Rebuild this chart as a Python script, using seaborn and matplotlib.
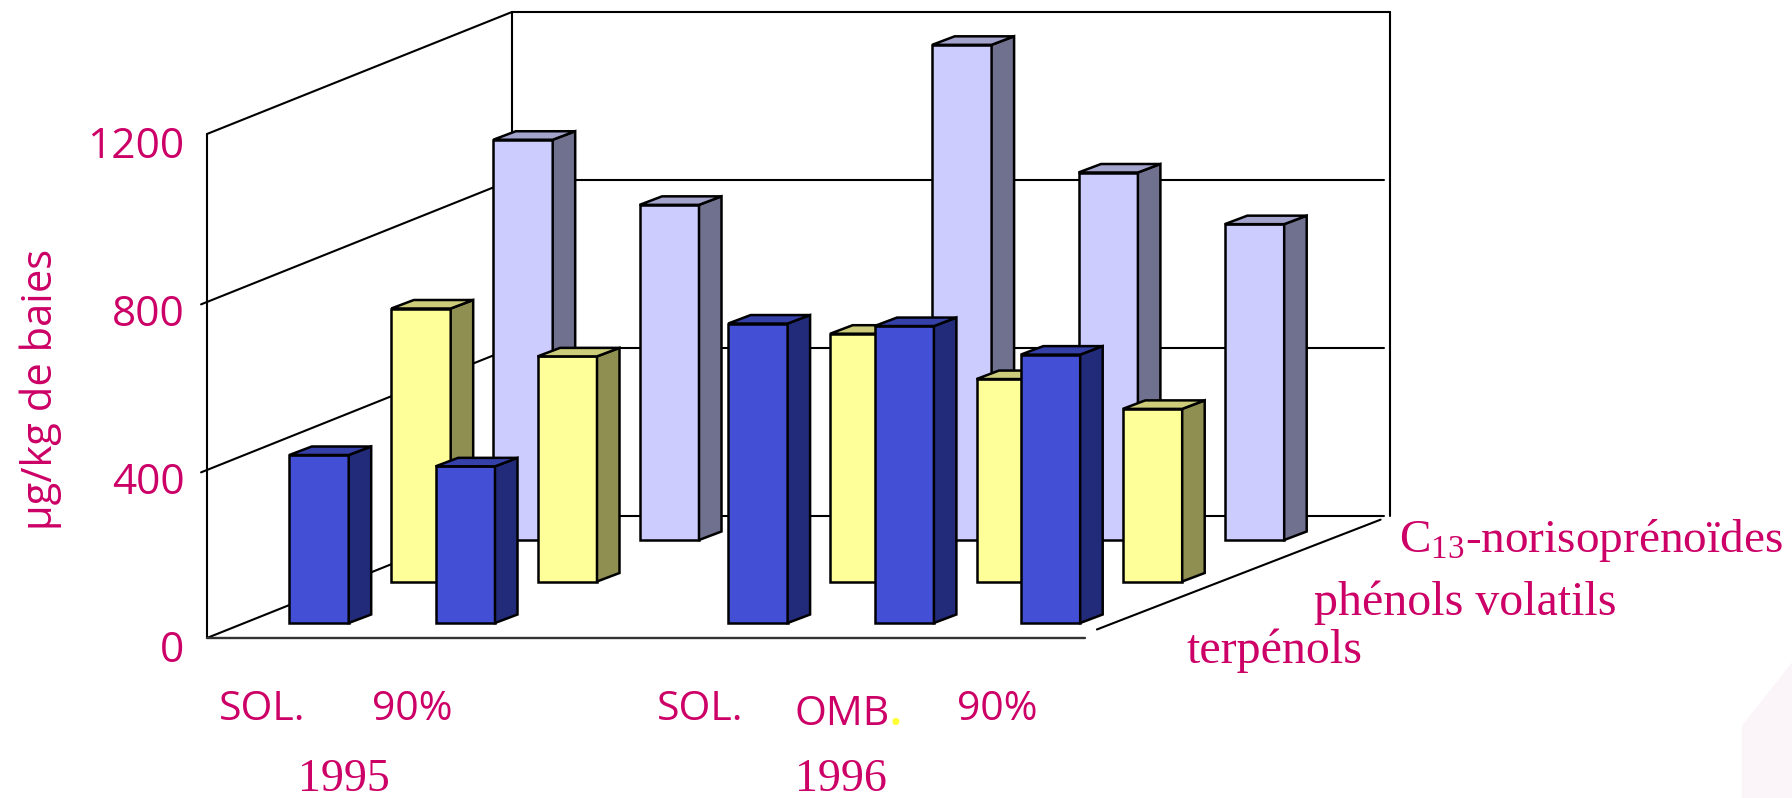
import matplotlib
matplotlib.use("Agg")
import matplotlib.pyplot as plt
from matplotlib.patches import Polygon
import seaborn as sns

# Datos (ug/kg de baies)
positions = [0, 1, 3, 4, 5]
terpenols = [400, 373, 713, 707, 639]
phenols = [650, 536, 590, 482, 411]
norisoprenoides = [953, 798, 1179, 875, 752]
y_ticks = [0, 400, 800, 1200]

ink = "#CC0066"
px_cat = 146.3   # pixeles por categoria
px_val = 0.42    # pixeles por ug/kg

# Desplazamiento oblicuo: profundidad de la caja, de una serie y de una barra
wall_dx, wall_dy = 305 / px_cat, 122 / px_val
step_dx, step_dy = 102 / px_cat, 41.5 / px_val
bar_dx, bar_dy = 22.5 / px_cat, 8.5 / px_val
left = -0.766
first_bottom = 15 / px_val

sns.set_style("white")
plt.rcParams["mathtext.default"] = "regular"

fig = plt.figure(figsize=(17.92, 7.98), dpi=100)
ax = fig.add_axes([0, 0, 1, 1])
ax.set_axis_off()

# Caja: pared izquierda, pared del fondo y suelo
back = left + wall_dx
for v in y_ticks:
    stub = 0 if v in (0, 1200) else 0.04
    ax.plot([left - stub, back], [v - stub * wall_dy / wall_dx, v + wall_dy], color="black", lw=1.5, zorder=1)
    ax.plot([back, back + 5.96 if v != 1200 else back + 6], [v + wall_dy, v + wall_dy], color="black", lw=1.5, zorder=1)
ax.plot([left, left], [0, 1200], color="black", lw=1.5, zorder=1)
ax.plot([back, back], [wall_dy, 1200 + wall_dy], color="black", lw=1.5, zorder=1)
ax.plot([back + 6, back + 6], [wall_dy, 1200 + wall_dy], color="black", lw=1.5, zorder=1)
ax.plot([left, left + 6], [0, 0], color="#333333", lw=1.7, zorder=1)
ax.plot([left + 6 + 0.04 * wall_dx, left + 6 + 0.97 * wall_dx],
        [0.07 * wall_dy, 0.97 * wall_dy], color="black", lw=1.5, zorder=8)

# Series de atras hacia delante, con su cara frontal, lateral y superior
series = [
    (norisoprenoides, 2, "#CCCCFF", "#70708F", "#A3A3CC"),
    (phenols, 1, "#FFFF99", "#8F8F52", "#CCCC7A"),
    (terpenols, 0, "#4350D6", "#222B7A", "#3540A8"),
]
for values, depth, front, side, top in series:
    z = 6 - 2 * depth
    xs = [p + depth * step_dx for p in positions]
    bottom = first_bottom + depth * step_dy
    sns.barplot(x=xs, y=values, native_scale=True, width=0.406, color=front, saturation=1,
                edgecolor="black", linewidth=1.8, bottom=bottom, zorder=z, ax=ax)
    for bar in ax.containers[-1]:
        x0, x1 = bar.get_x(), bar.get_x() + bar.get_width()
        y0, y1 = bar.get_y(), bar.get_y() + bar.get_height()
        ax.add_patch(Polygon([(x1, y0), (x1 + bar_dx, y0 + bar_dy), (x1 + bar_dx, y1 + bar_dy), (x1, y1)],
                             facecolor=side, edgecolor="black", lw=1.8, zorder=z))
        ax.add_patch(Polygon([(x0, y1), (x0 + bar_dx, y1 + bar_dy), (x1 + bar_dx, y1 + bar_dy), (x1, y1)],
                             facecolor=top, edgecolor="black", lw=1.8, zorder=z))

ax.set_xlim(-319 / px_cat, (1792 - 319) / px_cat)
ax.set_ylim(-(798 - 638) / px_val, 638 / px_val)
ax.set_axis_off()

# Mancha rosa muy clara de la esquina inferior derecha
ax.add_patch(Polygon([(0.972, 0), (0.972, 0.09), (1, 0.17), (1, 0)], transform=ax.transAxes,
                     facecolor="#FBF4F8", edgecolor="none", zorder=0))


def label(x, y, s, family="Open Sans", size=29.5, **kws):
    # x, y en pixeles de la imagen reducida
    return ax.text(x / 1568, 1 - y / 698, s, transform=ax.transAxes, family=family, size=size,
                   color=ink, va="center", zorder=10, **kws)


for v in y_ticks:
    ax.text(left - 0.155, v - 30, str(v), family="Open Sans", size=30.5, color=ink, ha="right", va="center")

label(36, 341, "µg/kg de baies", size=30, rotation=90, ha="center")
label(229, 621, "SOL.", ha="center")
label(361, 621, "90%", ha="center")
label(613, 621, "SOL.", ha="center")
omb = label(737, 625, "OMB", ha="center")
ax.annotate(".", xy=(1, 0), xycoords=omb, va="bottom", family="Open Sans", weight="bold", size=29.5, color="#FFFF33")
label(873, 621, "90%", ha="center")

serif = "Liberation Serif"
label(301, 682, "1995", family=serif, size=33, ha="center")
label(736, 682, "1996", family=serif, size=33, ha="center")
label(1224, 473, "C$_{13}$-norisoprénoïdes", family=serif, size=34, ha="left")
label(1150, 527, "phénols volatils", family=serif, size=34.5, ha="left")
label(1038, 569, "terpénols", family=serif, size=34.5, ha="left")

fig.savefig("out.png", dpi=100)
